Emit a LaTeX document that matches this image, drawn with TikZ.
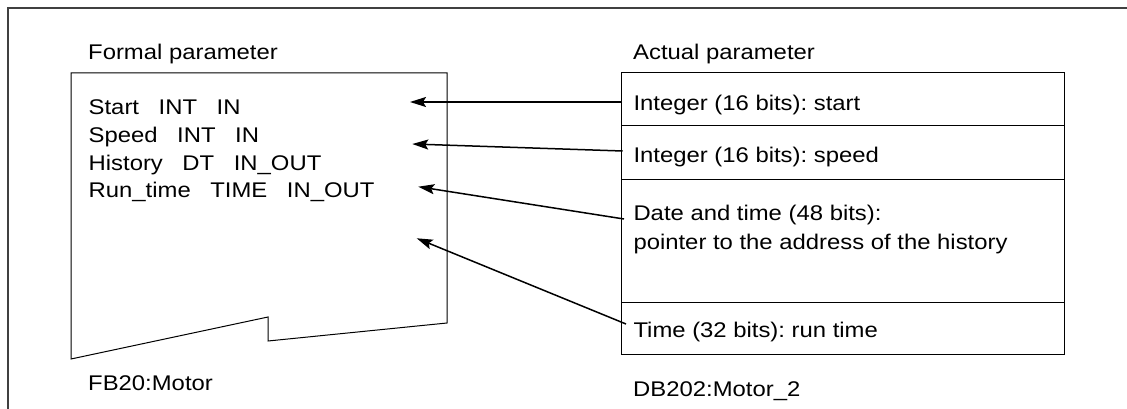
\documentclass[tikz,border=0pt]{standalone}
\usepackage{fontspec}
\setmainfont{Liberation Sans}
\usepackage{graphicx}
\usetikzlibrary{arrows.meta}
\newcommand\sq[1]{\scalebox{1}[0.89]{#1}}
\newcommand\gp{\hspace{0.82em}}
\frenchspacing
\begin{document}
\begin{tikzpicture}[x=1pt,y=-1pt,
  txt/.style={anchor=base west, inner sep=0pt, font=\fontsize{23.86}{27}\selectfont},
  arr/.style={-{Stealth[length=16pt,width=10pt,inset=3pt]}, line width=1.5pt},
  box/.style={line width=1pt, line join=miter},
  frame/.style={line width=1.2pt, draw=black!75}]
\useasboundingbox (0,0) rectangle (1127,409);
% outer frame
\draw[frame] (8,409) -- (8,8) -- (1127,8);
% formal parameter block
\draw[box] (71,73) -- (447,73) -- (447,323) -- (268,341) -- (268,317) -- (71,359) -- cycle;
\node[txt] (ftitle) at (88,60) {\sq{Formal parameter}};
\node[txt] (f1) at (88.5,115) {\sq{Start\gp INT\gp IN}};
\node[txt] (f2) at (88.5,142.7) {\sq{Speed\gp INT\gp IN}};
\node[txt] (f3) at (88.5,170) {\sq{History\gp DT\gp IN\_OUT}};
\node[txt] (f4) at (88.5,197) {\sq{Run\_time\gp TIME\gp IN\_OUT}};
\node[txt] (fname) at (88,390.7) {\sq{FB20:Motor}};
% actual parameter block
\draw[box] (621.7,72.7) rectangle (1064.3,354);
\draw[box] (621.7,126) -- (1064.3,126);
\draw[box] (621.7,179) -- (1064.3,179);
\draw[box] (621.7,302) -- (1064.3,302);
\node[txt] (atitle) at (633,60) {\sq{Actual parameter}};
\node[txt] (a1) at (633.3,110.7) {\sq{Integer (16 bits): start}};
\node[txt] (a2) at (633.3,162.7) {\sq{Integer (16 bits): speed}};
\node[txt] (a3) at (633.3,220.7) {\sq{Date and time (48 bits):}};
\node[txt] (a3b) at (633.3,249) {\sq{pointer to the address of the history}};
\node[txt] (a4) at (633.3,337.3) {\sq{Time (32 bits): run time}};
\node[txt] (aname) at (633,396) {\sq{DB202:Motor\_2}};
% connector end points
\coordinate (s1) at (622,102);
\coordinate (s2) at (622.7,151);
\coordinate (s3) at (624,219);
\coordinate (s4) at (626,324);
\coordinate (t1) at (410,102);
\coordinate (t2) at (412.3,144);
\coordinate (t3) at (418.3,186.7);
\coordinate (t4) at (416.7,238.3);
\draw[arr] (s1) -- (t1);
\draw[arr] (s2) -- (t2);
\draw[arr] (s3) -- (t3);
\draw[arr] (s4) -- (t4);
\end{tikzpicture}
\end{document}
